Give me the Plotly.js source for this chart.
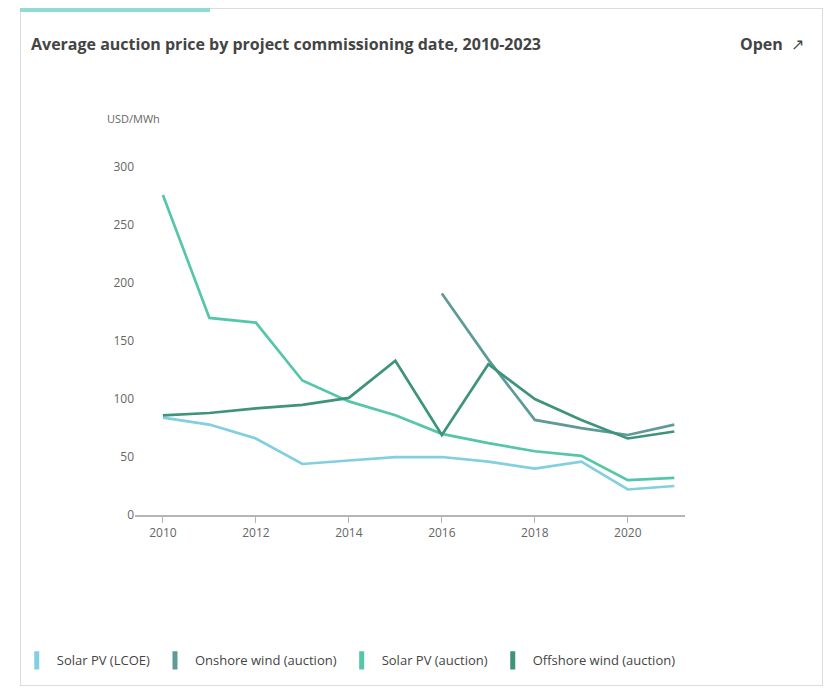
<!DOCTYPE html>
<html>
<head>
<meta charset="utf-8">
<script src="https://cdn.plot.ly/plotly-3.0.1.min.js"></script>
<style>
  html, body { margin: 0; padding: 0; background: #ffffff; }
  #card { position: absolute; left: 20px; top: 8px; width: 803px; height: 678px;
          border: 1px solid #d9dddd; box-sizing: border-box; background: #fff; }
  #accent { position: absolute; left: 20px; top: 8px; width: 190px; height: 4px; background: #8fdcd6; }
  #chart { position: absolute; left: 0; top: 0; width: 829px; height: 691px; }
</style>
</head>
<body>
<div id="card"></div>
<div id="accent"></div>
<div id="chart"></div>
<script>
const years = [2010, 2011, 2012, 2013, 2014, 2015, 2016, 2017, 2018, 2019, 2020, 2021];
const seriesNames = ["Solar PV (LCOE)", "Onshore wind (auction)", "Solar PV (auction)", "Offshore wind (auction)"];
const seriesA = [84, 78, 66, 44, 47, 50, 50, 46, 40, 46, 22, 25];
const seriesB = [null, null, null, null, null, null, 191, 134, 82, 75, 69, 78];
const seriesC = [276, 170, 166, 116, 98, 86, 70, 62, 55, 51, 30, 32];
const seriesD = [86, 88, 92, 95, 101, 133, 69, 130, 100, 82, 66, 72];
const colors = ["#82cfe0", "#5e9a98", "#55c6aa", "#3e9479"];
const xTicks = [2010, 2012, 2014, 2016, 2018, 2020];
const yTicks = [0, 50, 100, 150, 200, 250, 300];

const allSeries = [seriesA, seriesB, seriesC, seriesD];
const lineTraces = allSeries.map((s, i) => ({
  x: years, y: s, name: seriesNames[i], type: "scatter", mode: "lines",
  line: { color: colors[i], width: 2.7 }, connectgaps: false, showlegend: false
}));
const legendTraces = seriesNames.map((n, i) => ({
  x: [null], y: [null], name: n, type: "scatter", mode: "markers",
  marker: { symbol: "line-ns-open", size: 13, color: colors[i], line: { color: colors[i], width: 5 } },
  showlegend: true
}));

const layout = {
  width: 829, height: 691,
  paper_bgcolor: "rgba(0,0,0,0)", plot_bgcolor: "rgba(0,0,0,0)",
  font: { family: "Open Sans, sans-serif", color: "#555" },
  margin: { l: 135, r: 144, t: 144, b: 176 },
  showlegend: true,
  legend: { orientation: "h", x: -0.215, xanchor: "left", y: -0.392, yanchor: "middle",
            font: { size: 13, color: "#444" }, traceorder: "normal" },
  xaxis: { range: [2009.4, 2021.23], tickvals: xTicks, ticktext: xTicks.map(String),
           showgrid: false, zeroline: false, showline: true, linecolor: "#b5b5b5", linewidth: 2,
           ticks: "outside", ticklen: 6, tickcolor: "#b5b5b5", tickfont: { size: 12, color: "#666" } },
  yaxis: { range: [0, 320], tickvals: yTicks, ticktext: yTicks.map(String),
           showgrid: false, zeroline: false, showline: false, ticks: "",
           tickfont: { size: 12, color: "#666" } },
  annotations: [
    { text: "USD/MWh", xref: "paper", yref: "paper", x: -0.055, y: 1.07, xanchor: "left", yanchor: "middle",
      showarrow: false, font: { size: 11, color: "#666" } },
    { text: "<b>Average auction price by project commissioning date, 2010-2023</b>", xref: "paper", yref: "paper",
      x: -0.193, y: 1.27, xanchor: "left", yanchor: "middle", showarrow: false,
      font: { size: 16, color: "#444" } },
    { text: "<b>Open</b>  \u2197", xref: "paper", yref: "paper", x: 1.22, y: 1.27, xanchor: "right", yanchor: "middle",
      showarrow: false, font: { size: 16, color: "#444" } }
  ]
};

Plotly.newPlot("chart", lineTraces.concat(legendTraces), layout, { displayModeBar: false, staticPlot: true });
</script>
</body>
</html>
